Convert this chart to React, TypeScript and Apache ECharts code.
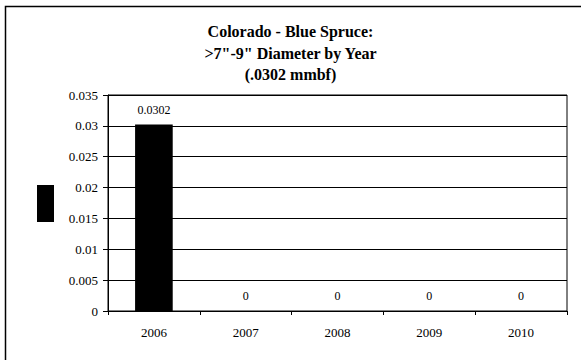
import React, { useEffect, useRef } from "react";
import * as echarts from "echarts";

const categories = ["2006", "2007", "2008", "2009", "2010"];
const values = [0.0302, 0, 0, 0, 0];
const titleLines = ["Colorado - Blue Spruce:", '>7"-9" Diameter by Year', "(.0302 mmbf)"];

export default function App() {
  const ref = useRef<HTMLDivElement>(null);
  useEffect(() => {
    const chart = echarts.init(ref.current!, null, { renderer: "svg" });
    const font = "'Liberation Serif', 'Times New Roman', serif";
    chart.setOption({
      animation: false,
      backgroundColor: "#fff",
      title: {
        text: titleLines.join("\n"),
        left: "center",
        top: 16,
        textStyle: { fontFamily: font, fontWeight: "bold", fontSize: 16, lineHeight: 21.5, color: "#000" },
      },
      graphic: [
        { type: "rect", shape: { x: 5.5, y: 6.5, width: 600, height: 400 }, style: { fill: "none", stroke: "#000", lineWidth: 1.5 }, silent: true },
        { type: "rect", shape: { x: 37, y: 185, width: 17, height: 37 }, style: { fill: "#000" }, silent: true },
      ],
      grid: { left: 108, top: 95, right: 14, bottom: 49, show: true, borderColor: "#000", borderWidth: 1 },
      xAxis: {
        type: "category",
        data: categories,
        axisLine: { lineStyle: { color: "#000" } },
        axisTick: { show: true, length: 4, lineStyle: { color: "#000" } },
        axisLabel: { fontFamily: font, fontSize: 13, color: "#000", margin: 15 },
      },
      yAxis: {
        type: "value",
        min: 0,
        max: 0.035,
        interval: 0.005,
        axisLine: { show: true, lineStyle: { color: "#000" } },
        axisTick: { show: true, length: 5, lineStyle: { color: "#000" } },
        axisLabel: { fontFamily: font, fontSize: 13, color: "#000", margin: 10 },
        splitLine: { lineStyle: { color: "#000", width: 1 } },
      },
      series: [
        {
          type: "bar",
          data: values,
          barWidth: "41%",
          itemStyle: { color: "#000" },
          label: { show: true, position: "top", distance: 9, fontFamily: font, fontSize: 12, color: "#000", formatter: (p: any) => String(p.value) },
        },
      ],
    });
    return () => chart.dispose();
  }, []);
  return <div ref={ref} style={{ position: "fixed", left: 0, top: 0, width: 581, height: 360 }} />;
}
